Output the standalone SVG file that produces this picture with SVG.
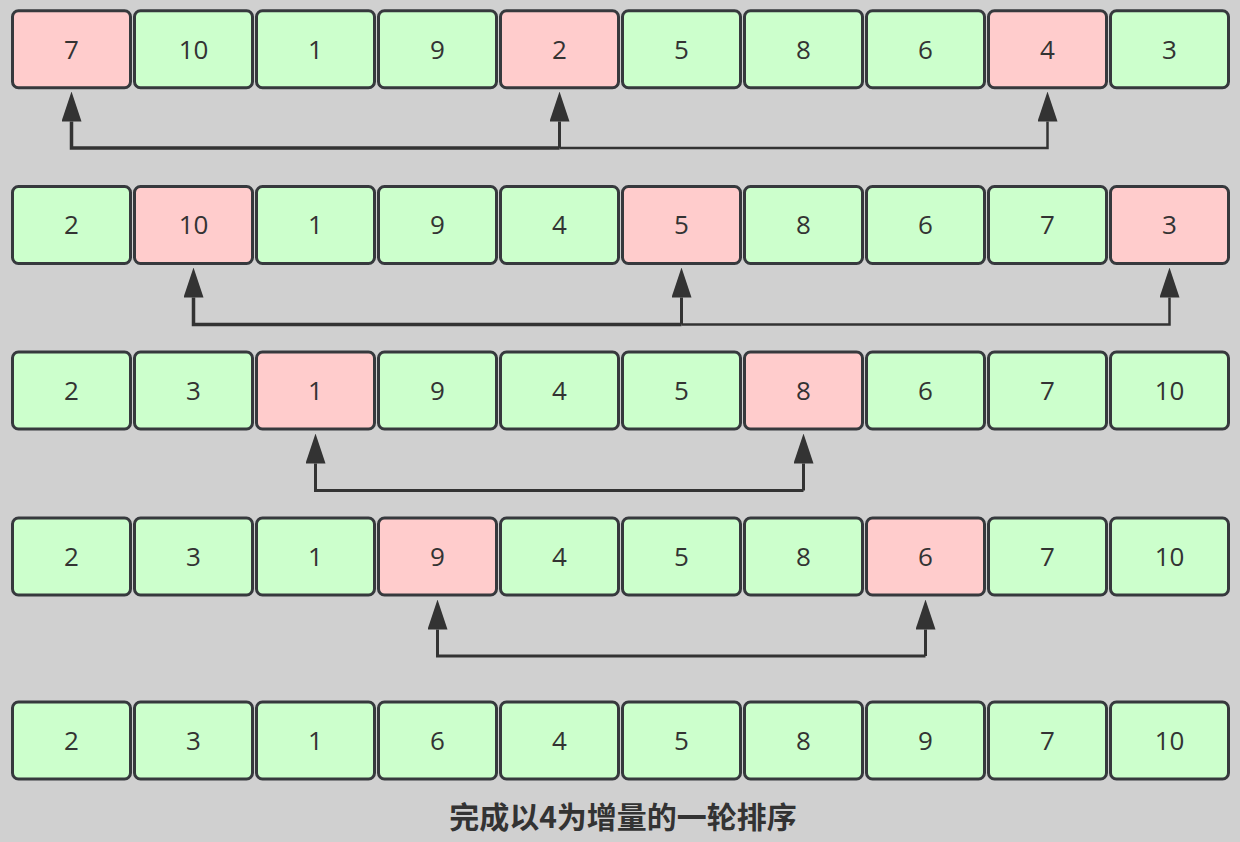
<svg xmlns="http://www.w3.org/2000/svg" width="1240" height="842" viewBox="0 0 1240 842">
<style>
.bg{fill:#d0d0d0}
.box rect{stroke:#36393d;stroke-width:3;rx:6;ry:6}
.g rect{fill:#ccffcc}
.r rect{fill:#ffcccc}
.box text{font-family:"Open Sans","Liberation Sans",sans-serif;font-size:26px;fill:#333333;text-anchor:middle}
.c{fill:none;stroke:#333333;stroke-width:3;stroke-linejoin:miter}
.title{font-family:"Noto Sans CJK SC","Noto Sans",sans-serif;font-size:30px;font-weight:bold;fill:#333333;text-anchor:middle}
</style>
<defs>
<marker id="ah" markerUnits="userSpaceOnUse" viewBox="0 0 30 20" refX="0" refY="10" markerWidth="30" markerHeight="20" orient="auto">
<path d="M0,0 L30,10 L0,20 z" fill="#333333"/>
</marker>
</defs>
<rect class="bg" x="0" y="0" width="1240" height="842"/>

<g id="row1">
<g id="r1c0" class="box r"><rect x="12.5" y="10.8" width="118" height="77"/><text x="71.5" y="58.8">7</text></g>
<g id="r1c1" class="box g"><rect x="134.5" y="10.8" width="118" height="77"/><text x="193.5" y="58.8">10</text></g>
<g id="r1c2" class="box g"><rect x="256.5" y="10.8" width="118" height="77"/><text x="315.5" y="58.8">1</text></g>
<g id="r1c3" class="box g"><rect x="378.5" y="10.8" width="118" height="77"/><text x="437.5" y="58.8">9</text></g>
<g id="r1c4" class="box r"><rect x="500.5" y="10.8" width="118" height="77"/><text x="559.5" y="58.8">2</text></g>
<g id="r1c5" class="box g"><rect x="622.5" y="10.8" width="118" height="77"/><text x="681.5" y="58.8">5</text></g>
<g id="r1c6" class="box g"><rect x="744.5" y="10.8" width="118" height="77"/><text x="803.5" y="58.8">8</text></g>
<g id="r1c7" class="box g"><rect x="866.5" y="10.8" width="118" height="77"/><text x="925.5" y="58.8">6</text></g>
<g id="r1c8" class="box r"><rect x="988.5" y="10.8" width="118" height="77"/><text x="1047.5" y="58.8">4</text></g>
<g id="r1c9" class="box g"><rect x="1110.5" y="10.8" width="118" height="77"/><text x="1169.5" y="58.8">3</text></g>
</g>

<g id="row2">
<g id="r2c0" class="box g"><rect x="12.5" y="186.5" width="118" height="77"/><text x="71.5" y="234">2</text></g>
<g id="r2c1" class="box r"><rect x="134.5" y="186.5" width="118" height="77"/><text x="193.5" y="234">10</text></g>
<g id="r2c2" class="box g"><rect x="256.5" y="186.5" width="118" height="77"/><text x="315.5" y="234">1</text></g>
<g id="r2c3" class="box g"><rect x="378.5" y="186.5" width="118" height="77"/><text x="437.5" y="234">9</text></g>
<g id="r2c4" class="box g"><rect x="500.5" y="186.5" width="118" height="77"/><text x="559.5" y="234">4</text></g>
<g id="r2c5" class="box r"><rect x="622.5" y="186.5" width="118" height="77"/><text x="681.5" y="234">5</text></g>
<g id="r2c6" class="box g"><rect x="744.5" y="186.5" width="118" height="77"/><text x="803.5" y="234">8</text></g>
<g id="r2c7" class="box g"><rect x="866.5" y="186.5" width="118" height="77"/><text x="925.5" y="234">6</text></g>
<g id="r2c8" class="box g"><rect x="988.5" y="186.5" width="118" height="77"/><text x="1047.5" y="234">7</text></g>
<g id="r2c9" class="box r"><rect x="1110.5" y="186.5" width="118" height="77"/><text x="1169.5" y="234">3</text></g>
</g>

<g id="row3">
<g id="r3c0" class="box g"><rect x="12.5" y="352" width="118" height="77"/><text x="71.5" y="400">2</text></g>
<g id="r3c1" class="box g"><rect x="134.5" y="352" width="118" height="77"/><text x="193.5" y="400">3</text></g>
<g id="r3c2" class="box r"><rect x="256.5" y="352" width="118" height="77"/><text x="315.5" y="400">1</text></g>
<g id="r3c3" class="box g"><rect x="378.5" y="352" width="118" height="77"/><text x="437.5" y="400">9</text></g>
<g id="r3c4" class="box g"><rect x="500.5" y="352" width="118" height="77"/><text x="559.5" y="400">4</text></g>
<g id="r3c5" class="box g"><rect x="622.5" y="352" width="118" height="77"/><text x="681.5" y="400">5</text></g>
<g id="r3c6" class="box r"><rect x="744.5" y="352" width="118" height="77"/><text x="803.5" y="400">8</text></g>
<g id="r3c7" class="box g"><rect x="866.5" y="352" width="118" height="77"/><text x="925.5" y="400">6</text></g>
<g id="r3c8" class="box g"><rect x="988.5" y="352" width="118" height="77"/><text x="1047.5" y="400">7</text></g>
<g id="r3c9" class="box g"><rect x="1110.5" y="352" width="118" height="77"/><text x="1169.5" y="400">10</text></g>
</g>

<g id="row4">
<g id="r4c0" class="box g"><rect x="12.5" y="518" width="118" height="77"/><text x="71.5" y="566">2</text></g>
<g id="r4c1" class="box g"><rect x="134.5" y="518" width="118" height="77"/><text x="193.5" y="566">3</text></g>
<g id="r4c2" class="box g"><rect x="256.5" y="518" width="118" height="77"/><text x="315.5" y="566">1</text></g>
<g id="r4c3" class="box r"><rect x="378.5" y="518" width="118" height="77"/><text x="437.5" y="566">9</text></g>
<g id="r4c4" class="box g"><rect x="500.5" y="518" width="118" height="77"/><text x="559.5" y="566">4</text></g>
<g id="r4c5" class="box g"><rect x="622.5" y="518" width="118" height="77"/><text x="681.5" y="566">5</text></g>
<g id="r4c6" class="box g"><rect x="744.5" y="518" width="118" height="77"/><text x="803.5" y="566">8</text></g>
<g id="r4c7" class="box r"><rect x="866.5" y="518" width="118" height="77"/><text x="925.5" y="566">6</text></g>
<g id="r4c8" class="box g"><rect x="988.5" y="518" width="118" height="77"/><text x="1047.5" y="566">7</text></g>
<g id="r4c9" class="box g"><rect x="1110.5" y="518" width="118" height="77"/><text x="1169.5" y="566">10</text></g>
</g>

<g id="row5">
<g id="r5c0" class="box g"><rect x="12.5" y="702" width="118" height="77"/><text x="71.5" y="750">2</text></g>
<g id="r5c1" class="box g"><rect x="134.5" y="702" width="118" height="77"/><text x="193.5" y="750">3</text></g>
<g id="r5c2" class="box g"><rect x="256.5" y="702" width="118" height="77"/><text x="315.5" y="750">1</text></g>
<g id="r5c3" class="box g"><rect x="378.5" y="702" width="118" height="77"/><text x="437.5" y="750">6</text></g>
<g id="r5c4" class="box g"><rect x="500.5" y="702" width="118" height="77"/><text x="559.5" y="750">4</text></g>
<g id="r5c5" class="box g"><rect x="622.5" y="702" width="118" height="77"/><text x="681.5" y="750">5</text></g>
<g id="r5c6" class="box g"><rect x="744.5" y="702" width="118" height="77"/><text x="803.5" y="750">8</text></g>
<g id="r5c7" class="box g"><rect x="866.5" y="702" width="118" height="77"/><text x="925.5" y="750">9</text></g>
<g id="r5c8" class="box g"><rect x="988.5" y="702" width="118" height="77"/><text x="1047.5" y="750">7</text></g>
<g id="r5c9" class="box g"><rect x="1110.5" y="702" width="118" height="77"/><text x="1169.5" y="750">10</text></g>
</g>

<g id="connectors">
<path class="c" style="stroke-width:3.5" d="M559.5,148 H71.5 V121.5" marker-end="url(#ah)"/>
<path class="c" d="M559.5,148 V121.5" marker-end="url(#ah)"/>
<path class="c" style="stroke-width:2.5" d="M559.5,148 H1047.5 V121.5" marker-end="url(#ah)"/>

<path class="c" style="stroke-width:3.5" d="M681.5,324.5 H193.5 V297.5" marker-end="url(#ah)"/>
<path class="c" d="M681.5,324.5 V297.5" marker-end="url(#ah)"/>
<path class="c" style="stroke-width:2.5" d="M681.5,324.5 H1169.5 V297.5" marker-end="url(#ah)"/>

<path class="c" d="M803.5,490.5 H315.5 V463.5" marker-end="url(#ah)"/>
<path class="c" d="M803.5,490.5 V463.5" marker-end="url(#ah)"/>

<path class="c" d="M925.5,656 H437.5 V629.5" marker-end="url(#ah)"/>
<path class="c" d="M925.5,656 V629.5" marker-end="url(#ah)"/>
</g>

<text class="title" x="623" y="828">完成以4为增量的一轮排序</text>
</svg>
